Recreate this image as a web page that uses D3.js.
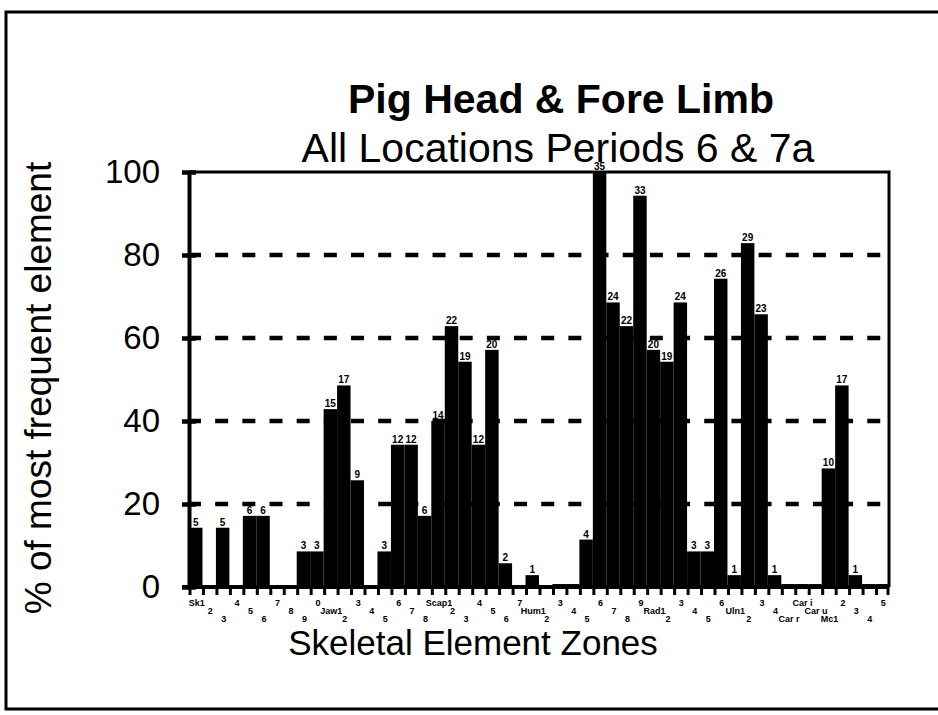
<!DOCTYPE html>
<html>
<head>
<meta charset="utf-8">
<script src="https://cdn.jsdelivr.net/npm/d3@7"></script>
<style>
  body { margin: 0; background: #fff; }
  svg { display: block; font-family: "Liberation Sans", Arial, Helvetica, sans-serif; }
</style>
</head>
<body>
<svg id="chart" width="938" height="715"></svg>
<script>
// zone labels along the x axis (staggered over three rows)
var zones = ["Sk1","2","3","4","5","6","7","8","9","0",
             "Jaw1","2","3","4","5","6","7","8",
             "Scap1","2","3","4","5","6","7",
             "Hum1","2","3","4","5","6","7","8","9",
             "Rad1","2","3","4","5","6",
             "Uln1","2","3","4",
             "Car r","Car i","Car u",
             "Mc1","2","3","4","5"];

// fragment counts per zone (tiny values are the thin slivers with no label)
var counts = [5,0,5,0,6,6,0,0,3,3,
              15,17,9,0,3,12,12,6,
              14,22,19,12,20,2,0,
              1,0,0.25,0.25,4,35,24,22,33,
              20,19,24,3,3,26,
              1,29,23,1,
              0.25,0.25,0.25,
              10,17,1,0.25,0.25];

var maxCount = 35;
var yTicks = [0, 20, 40, 60, 80, 100];
var gridTicks = [20, 40, 60, 80];

var svg = d3.select("#chart");

var x = d3.scaleBand().domain(d3.range(zones.length)).range([189, 889]).padding(0),
    y = d3.scaleLinear().domain([0, 100]).range([587, 172]);

function pct(c) { return c / maxCount * 100; }

var bars = counts.map(function(c, i) { return {i: i, c: c}; });

// outer frame
svg.append("path")
    .attr("d", "M940,12 H6 V709 H940")
    .attr("fill", "none")
    .attr("stroke", "#000")
    .attr("stroke-width", 3);

// titles
svg.append("text")
    .attr("x", 561).attr("y", 113)
    .attr("text-anchor", "middle")
    .style("font-size", "41px").style("font-weight", "bold")
    .text("Pig Head & Fore Limb");

svg.append("text")
    .attr("x", 558).attr("y", 162)
    .attr("text-anchor", "middle")
    .style("font-size", "41px")
    .text("All Locations Periods 6 & 7a");

// dashed grid
svg.append("g").selectAll("line")
    .data(gridTicks)
  .enter().append("line")
    .attr("x1", 188).attr("x2", 889)
    .attr("y1", function(d) { return y(d); })
    .attr("y2", function(d) { return y(d); })
    .attr("stroke", "#000")
    .attr("stroke-width", 4.5)
    .attr("stroke-dasharray", "13,14.17");

// bars
svg.append("g").selectAll("rect")
    .data(bars)
  .enter().append("rect")
    .attr("x", function(d) { return x(d.i); })
    .attr("width", x.bandwidth())
    .attr("y", function(d) { return y(pct(d.c)); })
    .attr("height", function(d) { return y(0) - y(pct(d.c)); })
    .attr("fill", "#000");

// count labels above bars
svg.append("g").selectAll("text")
    .data(bars.filter(function(d) { return d.c >= 1; }))
  .enter().append("text")
    .attr("x", function(d) { return x(d.i) + x.bandwidth() / 2; })
    .attr("y", function(d) { return y(pct(d.c)) - 2; })
    .attr("text-anchor", "middle")
    .style("font-size", "10px").style("font-weight", "bold")
    .text(function(d) { return d.c; });

// plot frame: top and right
svg.append("path")
    .attr("d", "M189," + y(100) + " H889 V" + y(0))
    .attr("fill", "none")
    .attr("stroke", "#000")
    .attr("stroke-width", 3);

// y axis
var yAxis = d3.axisLeft(y).tickValues(yTicks).tickSize(0).tickPadding(29);
var gy = svg.append("g").attr("transform", "translate(189,0)").call(yAxis);
gy.select(".domain").attr("stroke-width", 4);
gy.selectAll("text").style("font-size", "33px").style("font-family", "Liberation Sans, Arial, sans-serif");
gy.selectAll(".tick").append("line")
    .attr("x1", -7).attr("x2", 7)
    .attr("stroke", "#000").attr("stroke-width", 4.5);

// x axis: baseline, boundary ticks, staggered zone labels
svg.append("line")
    .attr("x1", 182).attr("x2", 889)
    .attr("y1", y(0)).attr("y2", y(0))
    .attr("stroke", "#000").attr("stroke-width", 4);

svg.append("g").selectAll("line")
    .data(d3.range(zones.length + 1))
  .enter().append("line")
    .attr("x1", function(i) { return i < zones.length ? x(i) + 1 : 888; })
    .attr("x2", function(i) { return i < zones.length ? x(i) + 1 : 888; })
    .attr("y1", y(0)).attr("y2", y(0) + 8)
    .attr("stroke", "#000").attr("stroke-width", 3);

svg.append("g").selectAll("text")
    .data(zones)
  .enter().append("text")
    .attr("x", function(d, i) { return x(i) + x.bandwidth() / 2 + 1; })
    .attr("y", function(d, i) { return 606 + (i % 3) * 8; })
    .attr("text-anchor", "middle")
    .style("font-size", "9px").style("font-weight", "bold")
    .text(function(d) { return d; });

// axis titles
svg.append("text")
    .attr("x", 473).attr("y", 655)
    .attr("text-anchor", "middle")
    .style("font-size", "35px")
    .text("Skeletal Element Zones");

svg.append("text")
    .attr("transform", "translate(51,388) rotate(-90)")
    .attr("text-anchor", "middle")
    .style("font-size", "37px")
    .text("% of most frequent element");
</script>
</body>
</html>
